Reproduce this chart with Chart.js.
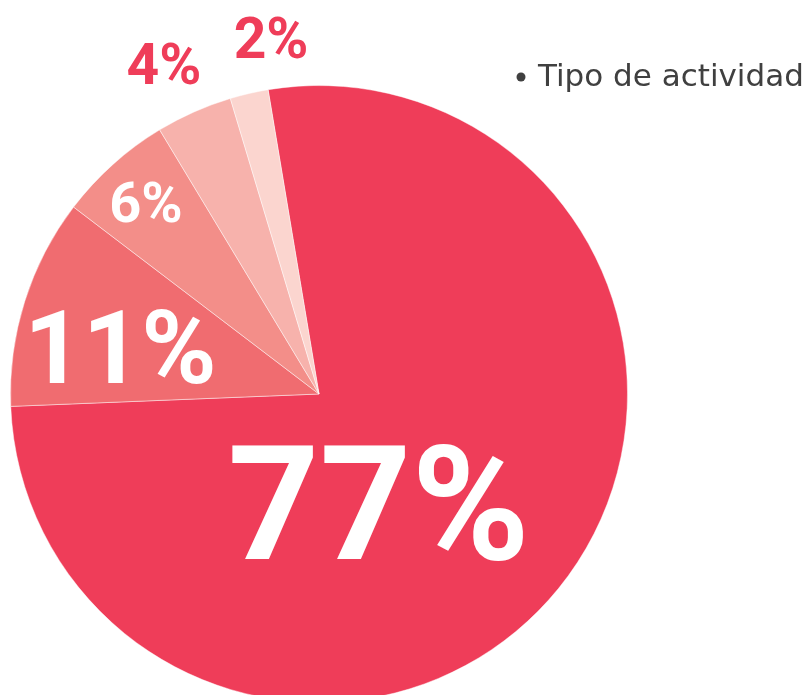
<!DOCTYPE html>
<html>
<head>
<meta charset="utf-8">
<script src="https://cdn.jsdelivr.net/npm/chart.js@4"></script>
<style>
  html, body { margin: 0; padding: 0; background: #fff; overflow: hidden; }
</style>
</head>
<body>
<canvas id="piecanvas" width="811" height="800"></canvas>
<script>
const categories = ['77%', '11%', '6%', '4%', '2%'];
const values = [77, 11, 6, 4, 2];
const legendLabel = 'Tipo de actividad';

const sliceColors = ['#ef3d59', '#f06c70', '#f38e89', '#f7b2ac', '#fbd5cf'];

// label placement per slice: fraction of radius, angle shift (deg), font size, colour
const labelRadius = [0.41, 0.66, 0.835, 1.18, 1.16];
const labelShift = [22.7, -4.7, -0.3, -1.3, 5.4];
const labelSize = [160, 102, 56, 57, 57];
const labelColor = ['#fff', '#fff', '#fff', '#ef3d59', '#ef3d59'];

const sliceLabels = {
    id: 'sliceLabels',
    afterDatasetsDraw(chart) {
        const ctx = chart.ctx;
        const arcs = chart.getDatasetMeta(0).data;
        ctx.save();
        ctx.textAlign = 'center';
        ctx.textBaseline = 'middle';
        arcs.forEach((arc, i) => {
            const p = arc.getProps(['x', 'y', 'startAngle', 'endAngle', 'outerRadius'], true);
            const mid = (p.startAngle + p.endAngle) / 2 + labelShift[i] * Math.PI / 180;
            const r = p.outerRadius * labelRadius[i];
            ctx.font = 'bold ' + labelSize[i] + 'px Roboto';
            ctx.fillStyle = labelColor[i];
            // nudge down so the digits sit centred on their cap height
            ctx.fillText(categories[i], p.x + Math.cos(mid) * r, p.y + Math.sin(mid) * r + labelSize[i] * 0.085);
        });
        ctx.restore();
    }
};

const sideLegend = {
    id: 'sideLegend',
    afterDraw(chart) {
        const ctx = chart.ctx;
        ctx.save();
        ctx.fillStyle = '#404040';
        ctx.beginPath();
        ctx.arc(521, 77, 4.5, 0, Math.PI * 2);
        ctx.fill();
        ctx.font = '31px "DejaVu Sans"';
        ctx.textBaseline = 'alphabetic';
        ctx.textAlign = 'left';
        ctx.fillText(legendLabel, 538, 86);
        ctx.restore();
    }
};

const piechart = new Chart(document.getElementById('piecanvas'), {
    type: 'pie',
    data: {
        labels: categories,
        datasets: [{
            label: legendLabel,
            data: values,
            backgroundColor: sliceColors,
            borderColor: 'rgba(255,255,255,0.45)',
            borderWidth: 1
        }]
    },
    options: {
        responsive: false,
        animation: false,
        rotation: -9.5,
        layout: {
            padding: { left: 10, right: 183, top: 85, bottom: 97 }
        },
        plugins: {
            legend: { display: false },
            tooltip: { enabled: false }
        }
    },
    plugins: [sliceLabels, sideLegend]
});
</script>
</body>
</html>
